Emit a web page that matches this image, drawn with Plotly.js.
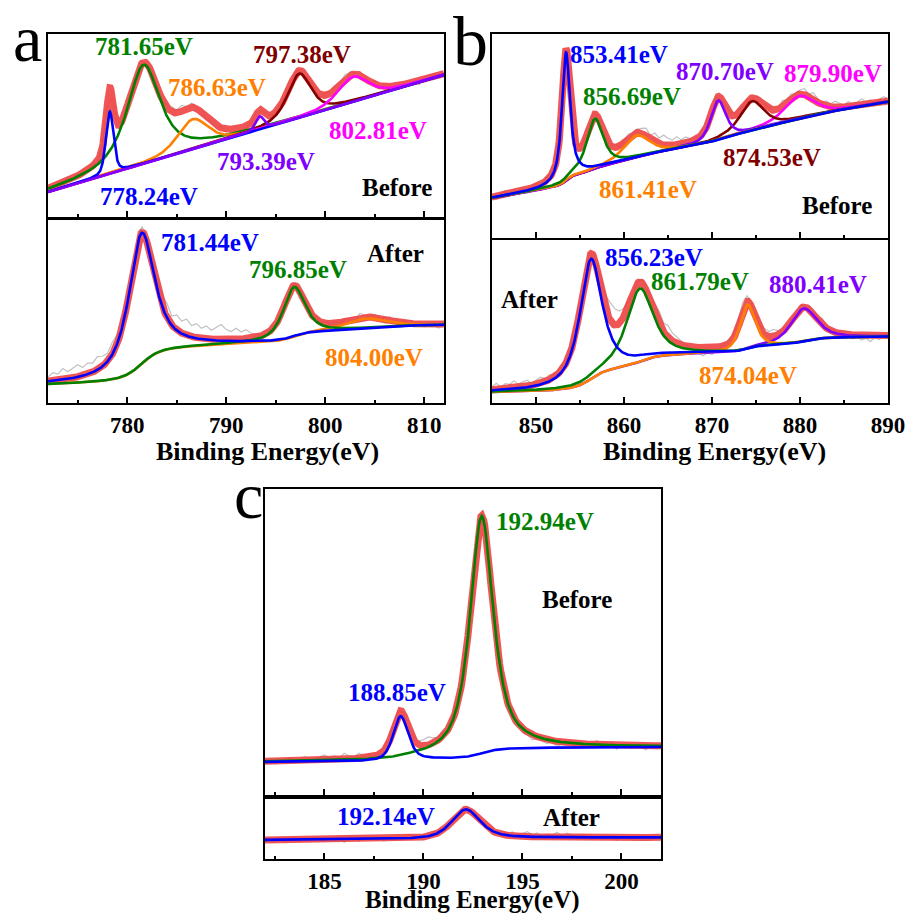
<!DOCTYPE html>
<html><head><meta charset="utf-8">
<script src="https://cdn.plot.ly/plotly-3.0.1.min.js"></script>
<style>html,body{margin:0;padding:0;background:#fff}#chart{width:913px;height:915px}</style>
</head><body><div id="chart"></div>
<script>
// ================= DATA =================
// Intensities are in arbitrary units (no y scale in the original).
// ---- Panel a, Before ----
const aBeforeRange = [772, 812];
const aBeforeBg = [25, 2.93];                 // background at range start, linear slope
const aBeforeCenters = [778.24, 781.65, 786.63, 793.39, 797.38, 802.81];
const aBeforeHeights = [62, 99, 30, 13, 44, 25];
const aBeforeFwhm    = [0.9, 4.0, 3.6, 1.0, 2.8, 3.6];
const aBeforeEta     = [0.4, 0.8, 0.5, 0.5, 0.6, 0.5];
const aBeforeSteps   = [0, 0, 0, 0, 0, 0];
const aBeforeLabels  = ['778.24eV', '781.65eV', '786.63eV', '793.39eV', '797.38eV', '802.81eV'];
const aBeforeRaw = [2,-3,1,-2,3,-1,2,-3,0,2,-2, 1,-2,0,2,-1,1,3,2, 2,-1,3,1,-2,2, 5,3,6,2,4,-1,2,-2,
  1,-3,2,-4,-6,-3,-5,-2, 1,3,-1,2,0,-2,1,3, -1,2,1,-2,3,0,-3,2, 3,4,2,5,3,1,4,2,-1,3,
  -2,1,-3,0,-4,2,-3,-1,-4,1,-2,-3,0,-2];
// ---- Panel a, After ----
const aAfterRange = [772, 812];
const aAfterBg = [19, 0.15];
const aAfterCenters = [781.44, 796.85, 804.00];
const aAfterHeights = [131, 50, 10];
const aAfterFwhm    = [3.1, 2.6, 5.0];
const aAfterEta     = [0.8, 0.7, 0.5];
const aAfterSteps   = [38, 11, 4];
const aAfterLabels  = ['781.44eV', '796.85eV', '804.00eV'];
const aAfterRaw = [4,8,6,11,7,10,12,8,11,9,13,10,8,12,9, -6,-8,-2, 4,6,5,8,9,
  10,14,9,15,12,16,11,14,10,13,9,12,15,10,8,11,7,9,5, 3,1,-2,2,0,-1,2,1, 3,2,4,1,3,-1,2,0,
  2,-1,3,1,-2,4,2,0,3,-1,2,4,1,-2,3,0,-1,2,-3,1,-2,-4,-1];
// ---- Panel b, Before ----
const bBeforeRange = [845, 890];
const bBeforeBg = [40, 1.45];
const bBeforeCenters = [853.41, 856.69, 861.41, 870.70, 874.53, 879.90];
const bBeforeHeights = [128, 50, 22, 39, 29, 22.6];
const bBeforeFwhm    = [1.1, 2.2, 3.5, 2.0, 3.2, 4.0];
const bBeforeEta     = [0.8, 0.7, 0.5, 0.6, 0.6, 0.5];
const bBeforeSteps   = [10, 5, 4, 4, 4, 4];
const bBeforeLabels  = ['853.41eV', '856.69eV', '861.41eV', '870.70eV', '874.53eV', '879.90eV'];
const bBeforeRaw = [2,-3,1,4,-2,3,-1,2,-4,1,3,-2,2, 3,1,-2,2,0,1,-1,3, 2,-1,3,1,-2,2,0,3,-1,2,4,1,3,
  5,8,4,9,6,10,7,5,8,4,6,3,2, 1,-2,3,0,2,-1,1,3, 2,4,1,3,-1,2,5,3,1,4,2,6,
  3,5,2,4,6,3,7,4,2,5,3,6, 4,2,5,1,3,6,2,4,-1,3,5,2];
// ---- Panel b, After ----
const bAfterRange = [845, 890];
const bAfterBg = [11, 0.05];
const bAfterCenters = [856.23, 861.79, 874.04, 880.41];
const bAfterHeights = [120, 73, 44.6, 33];
const bAfterFwhm    = [3.0, 3.6, 2.0, 3.5];
const bAfterEta     = [0.8, 0.7, 0.6, 0.6];
const bAfterSteps   = [24, 14, 7, 8];
const bAfterLabels  = ['856.23eV', '861.79eV', '874.04eV', '880.41eV'];
const bAfterRaw = [3,6,2,5,4,7,3,5,6,2,4,6,3,5,2, 4,6,3,5,-3,-6,-4, 3,2,6,10,14, 18,16,12,8,4, -2,1,3,2,
  6,10,13,9,12,8,6,4, 2,-1,-4,-6,-8,-5,-7,-3,-1,2,4, 5,8,10,6,3,2, 4,6,5,7,4,3,2,1,
  2,4,1,3,5,2,6,3,1,2, -1,-3,0,-4,-2,-5,-3,-6,-2,-4,-1,-3];
// ---- Panel c, Before ----
const cBeforeRange = [182, 202];
const cBeforeBg = [33, 0.05];
const cBeforeCenters = [188.85, 192.94];
const cBeforeHeights = [44, 237.5];
const cBeforeFwhm    = [0.9, 1.4];
const cBeforeEta     = [0.5, 0.8];
const cBeforeSteps   = [2, 12];
const cBeforeLabels  = ['188.85eV', '192.94eV'];
const cBeforeRaw = [-2,1,-3,2,-1,3,-2,0,4,1,-1,3,5,2,4,1,6,3,2,5,1,3,-1, 2,4,3,5,2,1,-2,3, 4,6,8,5,3,6,4,2,
  -3,-5,2,4,1,-2,3,6,5, 8,6,4,-2,-4,-3,-5,-2,
  -3,-4,-1,-5,-2,-3,1,-4,-2,2,-3,4,-1,-2,3,-4,-1,2,-3,0,-2,-4,1,-3,-1];
// ---- Panel c, After ----
const cAfterRange = [182, 202];
const cAfterBg = [19, 0.05];
const cAfterCenters = [192.14];
const cAfterHeights = [29.4];
const cAfterFwhm    = [1.7];
const cAfterEta     = [0.6];
const cAfterSteps   = [1.5];
const cAfterLabels  = ['192.14eV'];
const cAfterRaw = [-2,1,-1,2,-3,0,1,-2,2,-1, 3,0,-2,1,-1,2,-3,1,0,-2, 2,1,-1,3,-2,0,1,2,-1,3,
  2,1,-2,1,3,2,0,-1,2,1, -2,3,1,0,-1,2,-2,1,3,2, 4,1,3,5,2,4,-1,3,2,5, 1,4,2,0,3,1,-2,2,0,-1,
  2,-3,1,0,-2,1,-1,2,-2,0,1];
const axisTitle = 'Binding Energy(eV)';

// ================= STYLE / LAYOUT SETTINGS =================
const C = {blue:'#0000ff', green:'#008000', orange:'#ff8000', purple:'#8000ff',
           darkred:'#800000', magenta:'#ff00ff', red:'rgba(238,66,66,0.9)', grey:'#c0c0c0'};
const SERIF = 'Times New Roman, Liberation Serif, DejaVu Serif, serif';
const W = 913, H = 915;
const P = (xp, yp) => ({x: xp / W, y: 1 - yp / H});

// subplot boxes in pixels [left, top, right, bottom]
const panels = [
  {box:[48, 34, 444, 217],  range:aBeforeRange, bg:aBeforeBg, c:aBeforeCenters, h:aBeforeHeights, w:aBeforeFwhm, eta:aBeforeEta, steps:aBeforeSteps, labels:aBeforeLabels, raw:aBeforeRaw, rawStep:0.5,
   colors:[C.blue, C.green, C.orange, C.purple, C.darkred, C.magenta], order:[1,2,4,5,0,3],
   labelPos:[[149,196],[144,47],[217,87],[266,161],[302,54],[378,131]], tag:'Before', tagPos:[397,187], dtick:10, minor:5, bottom:false},
  {box:[48, 220, 444, 403], range:aAfterRange, bg:aAfterBg, c:aAfterCenters, h:aAfterHeights, w:aAfterFwhm, eta:aAfterEta, steps:aAfterSteps, labels:aAfterLabels, raw:aAfterRaw, rawStep:0.5,
   colors:[C.blue, C.green, C.orange], order:[2,1,0],
   labelPos:[[210,242],[298,269],[374,357]], tag:'After', tagPos:[395,253], dtick:10, minor:5, bottom:true, titlePos:[267,451], titleSize:26},
  {box:[492, 34, 888, 238], range:bBeforeRange, bg:bBeforeBg, c:bBeforeCenters, h:bBeforeHeights, w:bBeforeFwhm, eta:bBeforeEta, steps:bBeforeSteps, labels:bBeforeLabels, raw:bBeforeRaw, rawStep:0.5,
   colors:[C.blue, C.green, C.orange, C.purple, C.darkred, C.magenta], order:[5,4,3,2,1,0],
   labelPos:[[619,54],[632,96],[648,189],[725,71],[772,157],[833,74]], tag:'Before', tagPos:[837,206], dtick:10, minor:5, bottom:false},
  {box:[492, 240, 888, 403], range:bAfterRange, bg:bAfterBg, c:bAfterCenters, h:bAfterHeights, w:bAfterFwhm, eta:bAfterEta, steps:bAfterSteps, labels:bAfterLabels, raw:bAfterRaw, rawStep:0.5,
   colors:[C.blue, C.green, C.orange, C.purple], order:[3,2,1,0],
   labelPos:[[654,257],[700,282],[748,376],[818,284]], tag:'After', tagPos:[529,300], dtick:10, minor:5, bottom:true, titlePos:[714,451], titleSize:26},
  {box:[265, 489, 661, 795], range:cBeforeRange, bg:cBeforeBg, c:cBeforeCenters, h:cBeforeHeights, w:cBeforeFwhm, eta:cBeforeEta, steps:cBeforeSteps, labels:cBeforeLabels, raw:cBeforeRaw, rawStep:0.25,
   colors:[C.blue, C.green], order:[1,0],
   labelPos:[[397,692],[545,521]], tag:'Before', tagPos:[577,599], dtick:5, minor:2.5, bottom:false},
  {box:[265, 799, 661, 859], range:cAfterRange, bg:cAfterBg, c:cAfterCenters, h:cAfterHeights, w:cAfterFwhm, eta:cAfterEta, steps:cAfterSteps, labels:cAfterLabels, raw:cAfterRaw, rawStep:0.25,
   colors:[C.blue], order:[0],
   labelPos:[[386,816]], tag:'After', tagPos:[571,817], dtick:5, minor:2.5, bottom:true, titlePos:[472,900], titleSize:25}
];

// pseudo-Voigt line shape of a fitted peak
function pv(x, c, h, w, eta) {
  const d = (x - c) / (w / 2);
  return h * (eta / (1 + d * d) + (1 - eta) * Math.exp(-Math.LN2 * d * d));
}

const traces = [];
const annotations = [];
const layout = {
  width: W, height: H, margin: {l:0, r:0, t:0, b:0},
  paper_bgcolor:'#fff', plot_bgcolor:'#fff', showlegend:false,
  font: {family: SERIF, color:'#000'}
};

const GRID = 0.05;
panels.forEach((p, k) => {
  const n = k + 1, xa = n === 1 ? 'x' : 'x' + n, ya = n === 1 ? 'y' : 'y' + n;
  const [x0, x1] = p.range;
  const N = Math.round((x1 - x0) / GRID) + 1;
  const xs = [];
  for (let i = 0; i < N; i++) xs.push(+(x0 + i * GRID).toFixed(3));
  const prof = p.c.map((c, j) => xs.map(x => pv(x, c, p.h[j], p.w[j], p.eta[j])));
  // Shirley-type background: linear + steps following each peak's integrated area
  const bg = xs.map(x => p.bg[0] + p.bg[1] * (x - x0));
  prof.forEach((pr, j) => {
    if (!p.steps[j]) return;
    const cum = [0];
    for (let i = 1; i < N; i++) cum.push(cum[i - 1] + (pr[i] + pr[i - 1]) / 2);
    const tot = cum[N - 1];
    for (let i = 0; i < N; i++) bg[i] += p.steps[j] * cum[i] / tot;
  });
  const env = xs.map((x, i) => bg[i] + prof.reduce((s, pr) => s + pr[i], 0));
  const rx = [], ry = [];
  p.raw.forEach((d, i) => {
    const x = x0 + i * p.rawStep;
    const idx = Math.min(N - 1, Math.round((x - x0) / GRID));
    rx.push(x); ry.push(env[idx] + d);
  });
  traces.push({x: rx, y: ry, xaxis: xa, yaxis: ya, mode:'lines', line:{color:C.grey, width:1.2}, hoverinfo:'skip'});
  traces.push({x: xs, y: env, xaxis: xa, yaxis: ya, mode:'lines', line:{color:C.red, width:7}, hoverinfo:'skip'});
  p.order.forEach(j => {
    traces.push({x: xs, y: xs.map((x, i) => bg[i] + prof[j][i]), xaxis: xa, yaxis: ya, mode:'lines',
                 line:{color:p.colors[j], width:2.6}, hoverinfo:'skip'});
  });

  const [L, T, R, B] = p.box;
  const axLine = {showline:true, linecolor:'#000', linewidth:2, mirror:true, showgrid:false, zeroline:false};
  layout['xaxis' + (n === 1 ? '' : n)] = Object.assign({}, axLine, {
    domain:[L / W, R / W], anchor: ya, range: p.range, autorange:false,
    ticks:'inside', ticklen:6, tickwidth:2, tickcolor:'#000', tick0:0, dtick:p.dtick,
    minor:{ticks:'inside', ticklen:3, tickwidth:2, tickcolor:'#000', dtick:p.minor, tick0:0},
    showticklabels: p.bottom,
    tickfont:{family:SERIF, size:23, weight:'bold', color:'#000'}
  });
  layout['yaxis' + (n === 1 ? '' : n)] = Object.assign({}, axLine, {
    domain:[1 - B / H, 1 - T / H], anchor: xa, range:[0, B - T], autorange:false,
    ticks:'', showticklabels:false
  });

  p.labels.forEach((t, j) => {
    const q = P(p.labelPos[j][0], p.labelPos[j][1]);
    annotations.push({text:t, x:q.x, y:q.y, xref:'paper', yref:'paper', xanchor:'center', yanchor:'middle',
      showarrow:false, font:{family:SERIF, size:25, weight:'bold', color:p.colors[j]}});
  });
  const q = P(p.tagPos[0], p.tagPos[1]);
  annotations.push({text:p.tag, x:q.x, y:q.y, xref:'paper', yref:'paper', xanchor:'center', yanchor:'middle',
    showarrow:false, font:{family:SERIF, size:25, weight:'bold', color:'#000'}});
  if (p.bottom) {
    const t = P(p.titlePos[0], p.titlePos[1]);
    annotations.push({text:axisTitle, x:t.x, y:t.y, xref:'paper', yref:'paper', xanchor:'center', yanchor:'middle',
      showarrow:false, borderpad:0, font:{family:SERIF, size:p.titleSize, weight:'bold', color:'#000'}});
  }
});

// panel letters
[['a', 27, 38, 66], ['b', 470, 42, 70], ['c', 248, 495, 66]].forEach(([t, xp, yp, fs]) => {
  const q = P(xp, yp);
  annotations.push({text:t, x:q.x, y:q.y, xref:'paper', yref:'paper', xanchor:'center', yanchor:'middle',
    showarrow:false, font:{family:SERIF, size:fs, color:'#000'}});
});
layout.annotations = annotations;

Plotly.newPlot('chart', traces, layout, {staticPlot:true, displayModeBar:false});
</script></body></html>
